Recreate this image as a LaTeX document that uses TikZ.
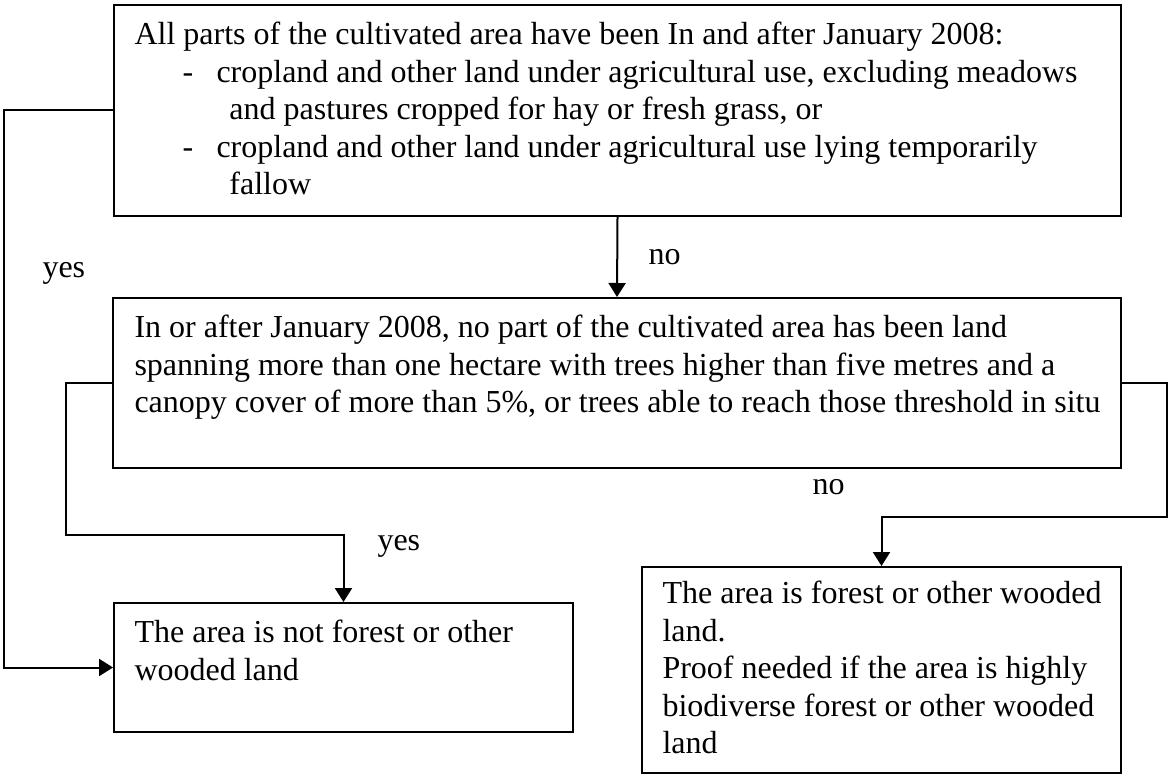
\documentclass[tikz,border=0pt]{standalone}
\usepackage{fontspec}
\setmainfont{Liberation Serif}
\usetikzlibrary{arrows.meta,fit,calc}
\begin{document}
\begin{tikzpicture}[x=0.375pt,y=-0.375pt,
  box/.style={draw,line width=0.75pt,inner sep=0pt},
  txt/.style={anchor=north west,inner sep=0pt,align=left,font=\fontsize{12}{14.06}\selectfont},
  lbl/.style={anchor=base west,inner sep=0pt,font=\fontsize{12}{14.06}\selectfont},
  link/.style={line width=0.75pt,-{Triangle[length=5.25pt,width=6.4pt]}}]
\useasboundingbox (0,0) rectangle (1168,776);

% decision and result boxes
\node[box,fit={(114,5) (1121,216)}] (q1) {};
\node[box,fit={(113,298) (1121,468)}] (q2) {};
\node[box,fit={(114,603) (573,732)}] (r1) {};
\node[box,fit={(642,567) (1121,773)}] (r2) {};

% box texts
\node[txt] (q1t) at ($(q1.north west)+(21,13.8)$) {\strut All parts of the cultivated area have been In and after January 2008:\\
\hspace*{18pt}\makebox[12.75pt][l]{-}cropland and other land under agricultural use, excluding meadows\\
\hspace*{35.6pt}and pastures cropped for hay or fresh grass, or\\
\hspace*{18pt}\makebox[12.75pt][l]{-}cropland and other land under agricultural use lying temporarily\\
\hspace*{35.6pt}fallow};
\node[txt] (q2t) at ($(q2.north west)+(22,13.8)$) {\strut In or after January 2008, no part of the cultivated area has been land\\
spanning more than one hectare with trees higher than five metres and a\\
canopy cover of more than 5\%, or trees able to reach those threshold in situ};
\node[txt] (r1t) at ($(r1.north west)+(21,13.8)$) {\strut The area is not forest or other\\
wooded land};
\node[txt] (r2t) at ($(r2.north west)+(21,11)$) {\strut The area is forest or other wooded\\
land.\\
Proof needed if the area is highly\\
biodiverse forest or other wooded\\
land};

% bend points of the connectors
\coordinate (lx) at (3.5,0);
\coordinate (mx) at (66,535);
\coordinate (rx) at (1166.5,517);

% connectors
\draw[link] (q1.west) -- (q1.west -| lx) -- (r1.west -| lx) -- (r1.west);
\draw[link] (q1.south) -- (q2.north);
\draw[link] (q2.west) -- (q2.west -| mx) -- (mx) -- (mx -| r1.north) -- (r1.north);
\draw[link] (q2.east) -- (q2.east -| rx) -- (rx) -- (rx -| r2.north) -- (r2.north);

% branch labels
\node[lbl] (yes1) at (42,278) {yes};
\node[lbl] (no1) at (648,265) {no};
\node[lbl] (yes2) at (377,550) {yes};
\node[lbl] (no2) at (812,494) {no};
\end{tikzpicture}
\end{document}
